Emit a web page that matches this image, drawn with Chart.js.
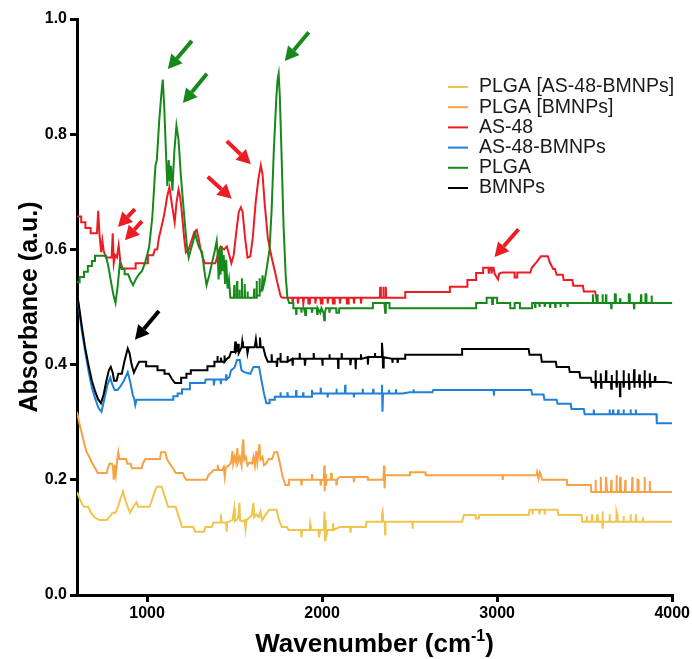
<!DOCTYPE html>
<html>
<head>
<meta charset="utf-8">
<script src="https://cdn.jsdelivr.net/npm/chart.js@4/dist/chart.umd.min.js"></script>
<style>
  html, body { margin: 0; padding: 0; background: #fff; }
  canvas { display: block; }
</style>
</head>
<body>
<canvas id="ftir" width="692" height="659"></canvas>
<script>
// FTIR spectra: [wavenumber (cm-1), absorbance (a.u.)]
const wnTicks = [1000, 2000, 3000, 4000];
const absTicks = [0, 0.2, 0.4, 0.6, 0.8, 1.0];

const plgaAs48Bmnps = [
[600,.179],[618,.165],[638,.153],[664,.153],[680,.143],[700,.135],[728,.13],[770,.13],[784,.135],[804,.143],[820,.143],[834,.153],[846,.165],[863,.18],[876,.165],[890,.153],[903,.143],[916,.15],[930,.157],[940,.161],[950,.153],[1014,.153],[1024,.161],[1036,.172],[1048,.183],[1058,.188],[1084,.188],[1094,.178],[1108,.165],[1120,.153],[1164,.153],[1174,.143],[1188,.13],[1200,.118],[1264,.118],[1274,.11],[1324,.11],[1334,.118],[1370,.118],[1380,.126],[1420,.126],[1422,.14],[1425,.126],[1452,.126],[1455,.11],[1458,.126],[1488,.13],[1498,.15],[1502,.128],[1520,.133],[1528,.16],[1532,.13],[1545,.128],[1558,.13],[1563,.115],[1568,.13],[1598,.138],[1608,.16],[1612,.135],[1624,.14],[1638,.135],[1648,.145],[1658,.13],[1678,.14],[1698,.148],[1740,.148],[1754,.13],[1770,.118],[1800,.118],[1808,.113],[1880,.113],[1882,.1],[1886,.113],[1930,.113],[1932,.122],[1936,.113],[1980,.113],[1982,.1],[1990,.113],[2010,.113],[2014,.145],[2017,.095],[2020,.13],[2024,.1],[2030,.113],[2060,.113],[2062,.125],[2066,.113],[2100,.118],[2160,.118],[2162,.108],[2166,.118],[2250,.118],[2254,.127],[2340,.127],[2342,.14],[2346,.145],[2350,.127],[2358,.127],[2360,.105],[2362,.127],[2515,.127],[2517,.115],[2519,.127],[2800,.127],[2810,.139],[2875,.139],[2878,.133],[2895,.133],[2898,.139],[3180,.139],[3185,.148],[3200,.148],[3202,.14],[3204,.148],[3240,.148],[3242,.14],[3246,.148],[3270,.148],[3272,.14],[3274,.148],[3345,.148],[3350,.139],[3482,.139],[3486,.127],
[3510,.127],[3512,.137],[3514,.127],[3540,.127],[3542,.14],[3544,.127],[3570,.127],[3572,.14],[3576,.14],[3578,.127],[3600,.127],[3602,.145],[3604,.115],[3606,.127],[3640,.127],[3642,.14],[3644,.127],[3680,.127],[3682,.145],[3686,.14],[3688,.127],[3720,.127],[3722,.137],[3724,.127],[3760,.127],[3762,.14],[3764,.127],[3790,.127],[3792,.14],[3794,.127],[3830,.127],[3832,.135],[3834,.127],[4000,.127]
];

const plgaBmnps = [
[600,.318],[612,.3],[628,.28],[642,.262],[655,.248],[670,.24],[688,.228],[704,.22],[718,.212],[770,.212],[776,.22],[786,.228],[800,.228],[806,.22],[810,.2],[816,.226],[822,.21],[830,.236],[836,.248],[842,.236],[880,.236],[888,.228],[906,.228],[914,.22],[970,.22],[976,.228],[990,.236],[1074,.236],[1080,.248],[1104,.248],[1114,.236],[1130,.228],[1148,.22],[1164,.212],[1204,.212],[1214,.205],[1224,.2],[1340,.2],[1350,.208],[1366,.212],[1380,.217],[1400,.217],[1404,.226],[1408,.217],[1430,.217],[1438,.222],[1444,.205],[1450,.222],[1468,.225],[1480,.23],[1488,.25],[1492,.228],[1500,.24],[1508,.23],[1516,.255],[1520,.23],[1530,.24],[1540,.225],[1546,.26],[1550,.27],[1555,.235],[1564,.24],[1574,.225],[1585,.23],[1600,.228],[1608,.24],[1616,.225],[1624,.25],[1630,.23],[1642,.262],[1648,.235],[1660,.24],[1668,.225],[1680,.228],[1694,.236],[1714,.236],[1728,.248],[1744,.248],[1758,.23],[1774,.206],[1790,.191],[1810,.191],[1812,.2],[1880,.2],[1882,.19],[1886,.2],[1940,.2],[1942,.21],[1944,.2],[1990,.2],[1992,.19],[1996,.2],[2010,.2],[2012,.225],[2015,.18],[2018,.21],[2022,.19],[2026,.2],[2050,.2],[2052,.212],[2056,.2],[2080,.2],[2082,.19],[2086,.2],[2100,.205],[2180,.205],[2182,.196],[2186,.205],[2260,.205],[2262,.2],[2350,.2],[2354,.225],[2357,.185],[2360,.208],[2500,.208],[2502,.213],[2590,.213],[2592,.208],[3030,.208],[3032,.2],[3034,.208],[3225,.208],[3228,.213],[3236,.202],[3244,.213],[3258,.2],[3398,.2],[3400,.191],[3535,.191],[3538,.179],
[3560,.179],[3562,.2],[3564,.179],[3590,.179],[3592,.205],[3594,.179],[3620,.179],[3622,.205],[3626,.205],[3628,.179],[3650,.179],[3652,.2],[3654,.179],[3680,.179],[3682,.208],[3684,.179],[3700,.179],[3702,.205],[3706,.195],[3708,.179],[3730,.179],[3732,.2],[3734,.179],[3770,.179],[3772,.205],[3774,.179],[3800,.179],[3802,.2],[3806,.2],[3808,.179],[3840,.179],[3842,.205],[3844,.179],[3870,.179],[3872,.198],[3874,.179],[4000,.179]
];

const as48 = [
[600,.657],[624,.657],[624,.647],[648,.647],[648,.637],[678,.637],[678,.628],[714,.628],[721,.667],[728,.628],[738,.595],[745,.615],[752,.598],[765,.586],[798,.586],[804,.628],[810,.576],[818,.59],[828,.586],[838,.607],[848,.578],[860,.567],[935,.567],[935,.576],[1005,.576],[1005,.59],[1035,.59],[1045,.6],[1058,.6],[1068,.62],[1080,.636],[1098,.66],[1114,.69],[1128,.708],[1142,.678],[1158,.647],[1168,.68],[1180,.704],[1190,.69],[1200,.66],[1212,.62],[1222,.595],[1238,.6],[1254,.615],[1270,.63],[1284,.634],[1294,.62],[1306,.6],[1318,.586],[1330,.576],[1390,.576],[1400,.586],[1410,.598],[1420,.605],[1440,.6],[1456,.605],[1470,.59],[1482,.576],[1495,.59],[1510,.63],[1524,.665],[1536,.673],[1546,.665],[1560,.62],[1574,.586],[1590,.588],[1604,.62],[1620,.68],[1636,.722],[1650,.746],[1660,.73],[1672,.68],[1690,.62],[1712,.586],[1732,.56],[1750,.535],[1764,.518],[1776,.516],
[1830,.516],[1832,.506],[1836,.516],[1860,.516],[1862,.506],[1866,.516],[1890,.516],[1893,.506],[1897,.516],[1920,.516],[1922,.506],[1930,.506],[1932,.516],[1960,.516],[1962,.506],[1966,.516],[1990,.516],[1993,.506],[2000,.506],[2003,.516],[2030,.516],[2032,.506],[2036,.516],[2060,.516],[2062,.506],[2070,.506],[2072,.516],[2100,.516],[2102,.506],[2106,.516],[2140,.516],[2142,.506],[2150,.506],[2152,.516],[2180,.516],[2182,.506],[2186,.516],[2220,.516],[2222,.506],[2226,.516],[2330,.516],[2332,.535],[2336,.516],[2348,.516],[2350,.535],[2352,.516],[2362,.516],[2364,.535],[2366,.516],[2475,.516],[2475,.526],[2730,.526],[2730,.535],[2830,.535],[2830,.547],[2880,.547],[2880,.559],[2920,.559],[2920,.568],[2950,.568],[2952,.558],[2956,.568],[2966,.568],[2968,.558],[2972,.568],[2980,.568],[2985,.558],[3005,.548],[3012,.558],[3030,.56],[3100,.56],[3100,.551],[3115,.551],[3115,.56],[3190,.56],[3198,.568],[3225,.578],[3250,.588],[3290,.588],[3300,.578],[3320,.566],[3330,.566],[3340,.556],[3375,.556],[3380,.547],[3430,.547],[3435,.537],[3490,.537],[3495,.527],[3560,.527],[3570,.507],[4000,.507]
];

const as48Bmnps = [
[600,.524],[612,.495],[626,.462],[645,.425],[665,.39],[685,.36],[705,.34],[722,.325],[740,.318],[756,.34],[774,.365],[790,.377],[802,.365],[815,.356],[832,.356],[848,.362],[868,.372],[890,.387],[904,.37],[918,.348],[928,.339],[933,.33],[940,.339],[1150,.339],[1150,.345],[1175,.345],[1175,.35],[1200,.35],[1200,.357],[1245,.357],[1245,.368],[1330,.368],[1335,.374],[1380,.374],[1382,.364],[1386,.374],[1420,.374],[1422,.366],[1424,.374],[1450,.374],[1452,.383],[1454,.374],[1470,.378],[1480,.39],[1500,.395],[1514,.408],[1530,.408],[1540,.39],[1555,.387],[1590,.384],[1608,.396],[1640,.396],[1654,.372],[1668,.35],[1682,.333],[1700,.333],[1700,.339],[1730,.339],[1730,.344],
[1760,.344],[1762,.352],[1764,.344],[1800,.344],[1802,.352],[1806,.344],[1850,.344],[1852,.356],[1854,.344],[1890,.344],[1892,.352],[1894,.344],[1940,.344],[1942,.356],[1946,.35],[1990,.35],[1992,.36],[1994,.35],[2030,.35],[2032,.343],[2034,.35],[2080,.35],[2082,.358],[2084,.35],[2130,.35],[2132,.365],[2134,.35],[2180,.35],[2182,.343],[2184,.35],[2230,.35],[2232,.358],[2234,.35],[2290,.35],[2292,.358],[2294,.35],[2340,.35],[2342,.365],[2345,.318],[2348,.35],[2380,.35],[2382,.356],[2384,.35],[2420,.35],[2422,.357],[2424,.35],[2460,.35],[2500,.352],[2520,.352],[2522,.357],[2524,.352],[2630,.352],[2635,.356],[2980,.356],[2982,.346],[2984,.356],[3195,.356],[3200,.348],[3265,.348],[3270,.339],[3340,.339],[3345,.332],[3420,.332],[3425,.323],[3495,.323],[3500,.314],[3550,.314],[3552,.322],[3554,.314],[3640,.314],[3642,.322],[3644,.314],[3660,.314],[3662,.322],[3664,.314],[3690,.314],[3692,.322],[3694,.314],[3720,.314],[3722,.322],[3724,.314],[3760,.314],[3762,.322],[3764,.314],[3790,.314],[3792,.322],[3794,.314],[3910,.314],[3912,.298],[4000,.298]
];

const plga = [
[600,.543],[615,.543],[615,.552],[640,.552],[640,.561],[662,.561],[662,.571],[685,.571],[685,.58],[703,.58],[703,.589],[765,.589],[778,.572],[792,.548],[806,.524],[820,.507],[832,.535],[845,.576],[855,.566],[872,.566],[872,.557],[892,.557],[906,.546],[920,.538],[936,.548],[952,.556],[972,.563],[988,.576],[1002,.592],[1012,.604],[1030,.655],[1048,.745],[1056,.755],[1070,.825],[1082,.87],[1090,.895],[1098,.85],[1108,.77],[1116,.71],[1124,.755],[1130,.718],[1137,.745],[1145,.702],[1156,.77],[1168,.815],[1180,.79],[1194,.725],[1205,.685],[1216,.645],[1228,.606],[1238,.586],[1250,.6],[1262,.612],[1275,.628],[1288,.612],[1300,.602],[1314,.596],[1328,.562],[1340,.538],[1356,.556],[1370,.575],[1386,.596],[1398,.615],[1404,.59],[1409,.548],[1414,.6],[1420,.556],[1426,.606],[1432,.562],[1438,.59],[1446,.54],[1452,.582],[1460,.532],[1468,.548],[1476,.516],
[1496,.516],[1498,.538],[1500,.516],[1512,.516],[1514,.545],[1516,.516],[1526,.516],[1528,.53],[1530,.516],[1540,.516],[1542,.55],[1544,.516],[1556,.516],[1558,.54],[1560,.516],[1572,.516],[1574,.527],[1576,.516],[1610,.516],[1612,.532],[1614,.516],[1624,.516],[1626,.545],[1628,.52],[1640,.52],[1642,.55],[1645,.525],[1656,.53],[1660,.555],[1664,.535],[1672,.545],[1680,.56],[1690,.58],[1700,.6],[1712,.67],[1724,.77],[1738,.86],[1746,.895],[1752,.905],[1758,.87],[1768,.77],[1780,.64],[1792,.555],[1802,.516],[1812,.507],[1836,.507],[1836,.498],
[1850,.498],[1852,.488],[1854,.498],[1880,.498],[1882,.49],[1884,.498],[1900,.498],[1904,.486],[1908,.498],[1940,.498],[1942,.49],[1946,.498],[1970,.498],[1972,.488],[1975,.498],[1990,.49],[1996,.498],[2008,.49],[2012,.477],[2016,.49],[2022,.498],[2040,.498],[2042,.49],[2046,.498],[2080,.498],[2082,.49],[2096,.49],[2098,.498],[2290,.498],[2290,.507],[2356,.507],[2360,.49],[2364,.507],[2385,.507],[2385,.498],
[2880,.498],[2880,.507],[2940,.507],[2940,.516],[2970,.516],[2972,.505],[2976,.516],[3000,.516],[3000,.507],[3075,.507],[3075,.498],[3100,.498],[3100,.507],[3130,.507],[3130,.498],[3200,.498],[3200,.507],
[3215,.507],[3217,.5],[3219,.507],[3240,.507],[3242,.5],[3244,.507],[3270,.507],[3272,.5],[3274,.507],[3300,.507],[3302,.5],[3304,.507],[3330,.507],[3332,.5],[3334,.507],[3360,.507],[3362,.5],[3364,.507],[3400,.507],[3402,.5],[3404,.507],
[3545,.507],[3547,.522],[3549,.507],[3570,.507],[3572,.522],[3574,.507],[3600,.507],[3602,.522],[3604,.507],[3620,.507],[3622,.522],[3624,.507],[3650,.507],[3652,.498],[3654,.507],[3670,.507],[3672,.522],[3676,.522],[3678,.507],[3700,.507],[3702,.515],[3704,.507],[3750,.507],[3752,.522],[3756,.522],[3758,.507],[3780,.507],[3782,.498],[3784,.507],[3820,.507],[3822,.522],[3824,.507],[3845,.507],[3847,.522],[3851,.522],[3853,.507],[3880,.507],[3882,.52],[3884,.507],[3910,.507],[4000,.507]
];

const bmnps = [
[600,.524],[612,.5],[626,.47],[645,.432],[665,.4],[685,.372],[702,.355],[720,.34],[737,.333],[752,.348],[768,.372],[782,.39],[793,.396],[804,.386],[812,.372],[826,.372],[836,.384],[856,.384],[872,.407],[890,.428],[900,.42],[912,.4],[925,.386],[940,.396],[955,.405],[995,.405],[995,.397],[1060,.397],[1060,.39],[1100,.39],[1100,.384],[1125,.384],[1142,.375],[1160,.368],[1195,.368],[1195,.377],[1225,.377],[1225,.384],[1250,.384],[1250,.39],[1345,.39],[1345,.397],[1385,.397],[1385,.405],[1400,.405],[1402,.415],[1404,.405],[1420,.405],[1422,.412],[1426,.405],[1440,.405],[1442,.416],[1444,.405],[1456,.41],[1470,.413],[1480,.422],[1500,.422],[1504,.44],[1508,.422],[1516,.425],[1520,.436],[1524,.42],[1540,.43],[1544,.44],[1548,.43],[1570,.43],[1574,.42],[1580,.43],[1615,.43],[1622,.444],[1628,.43],[1640,.43],[1645,.447],[1650,.43],[1664,.43],[1676,.415],[1690,.405],
[1710,.405],[1712,.418],[1714,.405],[1740,.405],[1742,.396],[1746,.41],[1760,.41],[1762,.42],[1764,.405],[1800,.405],[1802,.415],[1805,.405],[1830,.41],[1832,.398],[1834,.41],[1870,.41],[1872,.42],[1874,.41],[1900,.41],[1902,.398],[1906,.41],[1950,.41],[1952,.42],[1954,.41],[2000,.41],[2002,.398],[2004,.41],[2040,.41],[2042,.418],[2044,.41],[2090,.41],[2092,.394],[2094,.41],[2110,.41],[2112,.42],[2114,.41],[2160,.41],[2162,.399],[2166,.41],[2190,.41],[2192,.392],[2194,.41],[2220,.41],[2222,.418],[2224,.41],[2260,.413],[2262,.4],[2264,.413],[2300,.413],[2302,.42],[2304,.413],[2340,.413],[2342,.438],[2346,.42],[2348,.395],[2352,.413],[2400,.41],[2402,.403],[2404,.41],[2430,.41],[2432,.403],[2434,.41],[2475,.41],[2475,.417],[2800,.417],[2800,.427],[3180,.427],[3185,.417],[3250,.417],[3255,.405],[3335,.405],[3340,.396],[3410,.396],[3415,.387],[3470,.387],[3475,.377],[3535,.377],[3540,.37],
[3560,.37],[3562,.39],[3564,.358],[3566,.37],[3590,.37],[3592,.385],[3594,.36],[3596,.37],[3620,.37],[3622,.39],[3624,.37],[3650,.37],[3652,.358],[3654,.382],[3656,.37],[3680,.37],[3682,.39],[3684,.36],[3686,.37],[3700,.37],[3702,.345],[3704,.37],[3720,.37],[3722,.39],[3724,.36],[3726,.37],[3750,.37],[3752,.385],[3754,.358],[3756,.37],[3780,.37],[3782,.392],[3784,.36],[3786,.37],[3810,.37],[3812,.383],[3814,.36],[3816,.37],[3840,.37],[3842,.39],[3844,.358],[3846,.37],[3870,.37],[3872,.385],[3874,.362],[3876,.37],[3900,.37],[3902,.38],[3904,.37],[3960,.37],[4000,.368]
];

// Band markers: tail -> head, in wavenumber / absorbance units
const bandArrows = [
  { series: 'PLGA',        from: [1256, .962], to: [1119, .913] },
  { series: 'PLGA',        from: [1342, .905], to: [1205, .854] },
  { series: 'PLGA',        from: [1924, .977], to: [1787, .927] },
  { series: 'AS-48',       from: [931, .670],  to: [834, .639] },
  { series: 'AS-48',       from: [971, .649],  to: [874, .616] },
  { series: 'AS-48',       from: [1347, .726], to: [1484, .688] },
  { series: 'AS-48',       from: [1456, .788], to: [1593, .748] },
  { series: 'AS-48',       from: [3122, .635], to: [2985, .587] },
  { series: 'BMNPs',       from: [1068, .493], to: [931, .443] }
];

const toXY = arr => arr.map(p => ({ x: p[0], y: p[1] }));
const FONT = '"Liberation Sans", Arial, Helvetica, sans-serif';

const datasets = [
  { label: 'PLGA [AS-48-BMNPs]', data: toXY(plgaAs48Bmnps), borderColor: '#f1c44e', order: 1 },
  { label: 'PLGA [BMNPs]',       data: toXY(plgaBmnps),     borderColor: '#f7a244', order: 2 },
  { label: 'AS-48',              data: toXY(as48),          borderColor: '#ec1c24', order: 4 },
  { label: 'AS-48-BMNPs',        data: toXY(as48Bmnps),     borderColor: '#1f80d8', order: 5 },
  { label: 'PLGA',               data: toXY(plga),          borderColor: '#17891a', order: 3 },
  { label: 'BMNPs',              data: toXY(bmnps),         borderColor: '#000000', order: 0 }
];

function drawArrow(ctx, x0, y0, x1, y1, color) {
  const ang = Math.atan2(y1 - y0, x1 - x0);
  const headLen = 14, headHalf = 7.5;
  const bx = x1 - headLen * Math.cos(ang), by = y1 - headLen * Math.sin(ang);
  ctx.save();
  ctx.strokeStyle = color; ctx.fillStyle = color;
  ctx.lineWidth = 4; ctx.lineCap = 'butt';
  ctx.beginPath(); ctx.moveTo(x0, y0); ctx.lineTo(bx, by); ctx.stroke();
  ctx.beginPath();
  ctx.moveTo(x1, y1);
  ctx.lineTo(bx + headHalf * Math.sin(ang), by - headHalf * Math.cos(ang));
  ctx.lineTo(bx - headHalf * Math.sin(ang), by + headHalf * Math.cos(ang));
  ctx.closePath(); ctx.fill();
  ctx.restore();
}

const decorations = {
  id: 'decorations',
  afterDatasetsDraw(chart) {
    const { ctx, scales: { x, y } } = chart;
    bandArrows.forEach(a => {
      const ds = chart.data.datasets.find(d => d.label === a.series);
      drawArrow(ctx,
        x.getPixelForValue(a.from[0]), y.getPixelForValue(a.from[1]),
        x.getPixelForValue(a.to[0]), y.getPixelForValue(a.to[1]),
        ds.borderColor);
    });
  },
  afterDraw(chart) {
    const { ctx, chartArea: area } = chart;
    ctx.save();
    ctx.fillStyle = '#000';

    // y-axis title
    ctx.save();
    ctx.translate(30, (area.top + area.bottom) / 2);
    ctx.rotate(-Math.PI / 2);
    ctx.font = 'bold 25px ' + FONT;
    ctx.textAlign = 'center';
    ctx.textBaseline = 'middle';
    ctx.fillText('Absorbance (a.u.)', 0, 0);
    ctx.restore();

    // x-axis title with superscript
    const base = 'Wavenumber (cm', sup = '-1', close = ')';
    const mainFont = 'bold 26px ' + FONT, supFont = 'bold 16px ' + FONT;
    ctx.font = mainFont; const w1 = ctx.measureText(base).width, w3 = ctx.measureText(close).width;
    ctx.font = supFont; const w2 = ctx.measureText(sup).width;
    let tx = (area.left + area.right) / 2 - (w1 + w2 + w3) / 2;
    const ty = 652;
    ctx.textAlign = 'left'; ctx.textBaseline = 'alphabetic';
    ctx.font = mainFont; ctx.fillText(base, tx, ty); tx += w1;
    ctx.font = supFont; ctx.fillText(sup, tx, ty - 11); tx += w2;
    ctx.font = mainFont; ctx.fillText(close, tx, ty);

    // legend
    ctx.font = '19.5px ' + FONT;
    ctx.textBaseline = 'middle';
    chart.data.datasets.forEach((ds, i) => {
      const ry = 87 + i * 20.2;
      ctx.strokeStyle = ds.borderColor; ctx.lineWidth = 2;
      ctx.beginPath(); ctx.moveTo(448, ry); ctx.lineTo(468, ry); ctx.stroke();
      ctx.fillStyle = '#1a1a1a';
      ctx.fillText(ds.label, 479, ry);
    });
    ctx.restore();
  }
};

const axisGrid = { drawOnChartArea: false, color: '#000', tickColor: '#000', tickLength: 7, tickWidth: 3, lineWidth: 3 };
const axisBorder = { display: true, color: '#000', width: 3 };
const tickFont = { family: FONT, size: 16, weight: 'bold' };

new Chart(document.getElementById('ftir'), {
  type: 'line',
  data: { datasets },
  options: {
    responsive: false,
    animation: false,
    layout: { padding: { top: 19, right: 19, left: 0, bottom: 0 } },
    elements: { point: { radius: 0, hoverRadius: 0 }, line: { borderWidth: 2, tension: 0 } },
    plugins: { legend: { display: false }, tooltip: { enabled: false } },
    events: [],
    scales: {
      x: {
        type: 'linear', min: 600, max: 4000,
        afterBuildTicks: s => { s.ticks = wnTicks.map(v => ({ value: v })); },
        afterFit: s => { s.height = 64; },
        grid: axisGrid, border: axisBorder,
        ticks: { color: '#000', font: tickFont, padding: 2, maxRotation: 0, callback: v => String(v) }
      },
      y: {
        type: 'linear', min: 0, max: 1,
        afterBuildTicks: s => { s.ticks = absTicks.map(v => ({ value: v })); },
        afterFit: s => { s.width = 77; },
        grid: axisGrid, border: axisBorder,
        ticks: { color: '#000', font: tickFont, padding: 3, callback: v => Number(v).toFixed(1) }
      }
    }
  },
  plugins: [decorations]
});
</script>
</body>
</html>
